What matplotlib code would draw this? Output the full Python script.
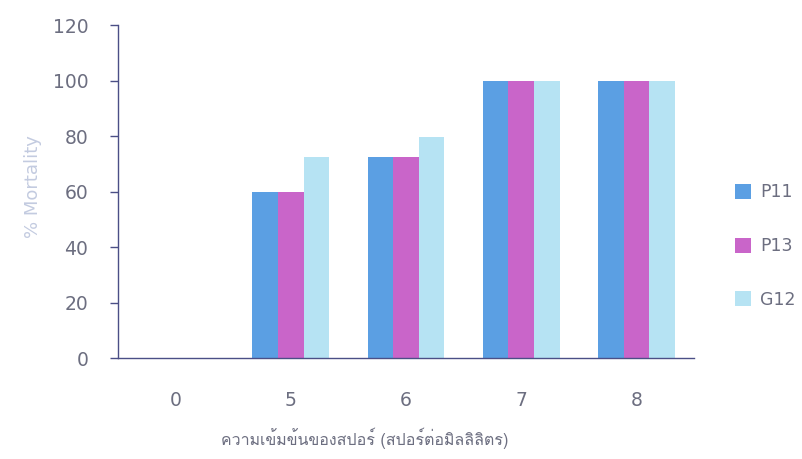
import matplotlib
matplotlib.use("Agg")
import matplotlib.pyplot as plt
import numpy as np
from matplotlib import font_manager as fm
from matplotlib.ft2font import FT2Font

categories = ["0", "5", "6", "7", "8"]
series_names = ["P11", "P13", "G12"]
p11 = [0, 60, 72.5, 100, 100]
p13 = [0, 60, 72.5, 100, 100]
g12 = [0, 72.5, 79.5, 100, 100]
yticks = [0, 20, 40, 60, 80, 100, 120]
xlabel = "ความเข้มข้นของสปอร์ (สปอร์ต่อมิลลิลิตร)"
ylabel = "% Mortality"

colors = ["#5b9fe3", "#c965c9", "#b6e3f3"]

# find a font with Thai glyphs
thai_fam = None
for f in fm.fontManager.ttflist:
    try:
        ft = FT2Font(f.fname)
        if ft.get_char_index(0x0E04) and ft.get_char_index(0x0E21) and ft.get_char_index(0x0E2A):
            thai_fam = f.name
            break
    except Exception:
        pass
thai_family = [thai_fam, "DejaVu Sans"] if thai_fam else ["DejaVu Sans"]

W, H = 802, 459
fig = plt.figure(figsize=(W / 100, H / 100), dpi=100)
left, right, top, bottom = 118, 694, 25, 358
ax = fig.add_axes([left / W, 1 - bottom / H, (right - left) / W, (bottom - top) / H])

x = np.arange(len(categories))
w = 0.222
for i, (vals, name) in enumerate(zip([p11, p13, g12], series_names)):
    ax.bar(x + (i - 1) * w, vals, width=w, color=colors[i], label=name, linewidth=0, zorder=2)

ax.set_xlim(-0.5, len(categories) - 0.5)
ax.set_ylim(0, 120)
ax.set_yticks(yticks)
ax.set_xticks(x)
ax.set_xticklabels(categories)

axis_col = "#4b4f86"
text_col = "#6c6e80"
for s in ["top", "right"]:
    ax.spines[s].set_visible(False)
for s in ["left", "bottom"]:
    ax.spines[s].set_color(axis_col)
    ax.spines[s].set_linewidth(1.0)
ax.tick_params(axis="y", direction="out", length=6, width=1.0, color=axis_col,
               labelsize=13.5, labelcolor=text_col, pad=15.5)
ax.tick_params(axis="x", length=0, labelsize=13.5, labelcolor=text_col, pad=24)

fig.text(33 / W, 1 - 187 / H, ylabel, rotation=90, ha="center", va="center",
         fontsize=13, color="#c3cbe0")
fig.text(365 / W, 1 - 438 / H, xlabel, ha="center", va="center",
         fontsize=11.5, color=text_col, family=thai_family)

leg = fig.legend(loc="center left", bbox_to_anchor=(735 / W, 1 - 246 / H),
                 frameon=False, fontsize=12.5, handlelength=0.95, handleheight=0.95,
                 handletextpad=0.5, labelspacing=2.05, borderpad=0, borderaxespad=0)
for t in leg.get_texts():
    t.set_color(text_col)

fig.savefig("out.png", dpi=100)
